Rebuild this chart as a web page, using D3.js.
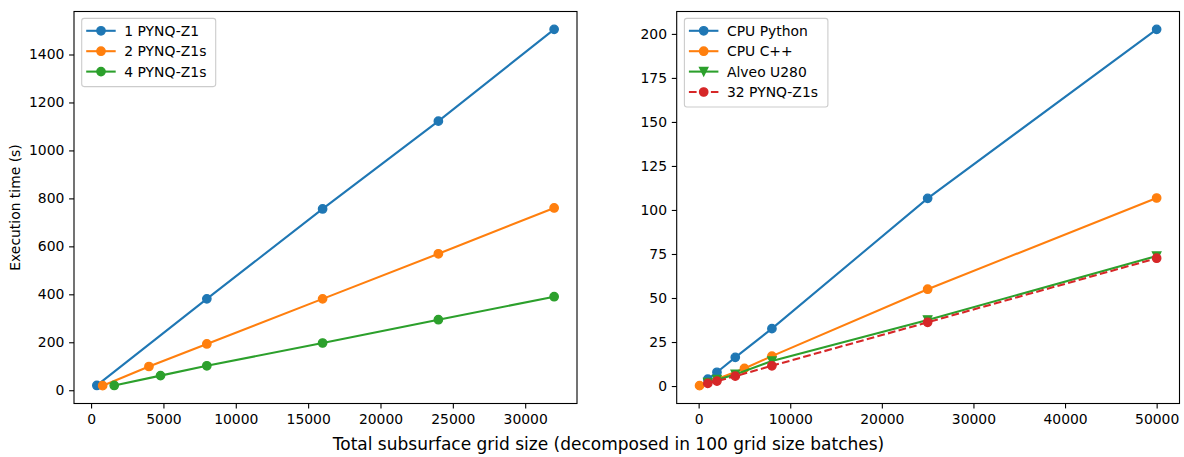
<!DOCTYPE html>
<html>
<head>
<meta charset="utf-8">
<script src="https://cdn.jsdelivr.net/npm/d3@7"></script>
<style>
  body { margin: 0; background: #fff; }
  svg text { font-family: "DejaVu Sans", sans-serif; fill: #000; }
</style>
</head>
<body>
<svg id="chart" width="1184" height="457"></svg>
<script>
// left panel: PYNQ boards
const leftNames = ["1 PYNQ-Z1", "2 PYNQ-Z1s", "4 PYNQ-Z1s"];
const leftX = [
  [400, 8000, 16000, 24000, 32000],
  [800, 4000, 8000, 16000, 24000, 32000],
  [1600, 4800, 8000, 16000, 24000, 32000],
];
const leftY = [
  [20, 381, 756, 1122, 1505],
  [19, 99, 193, 381, 569, 760],
  [20, 61, 102, 197, 294, 390],
];
const leftXTicks = [0, 5000, 10000, 15000, 20000, 25000, 30000];
const leftYTicks = [0, 200, 400, 600, 800, 1000, 1200, 1400];

// right panel: CPU / Alveo / PYNQ cluster
const rightNames = ["CPU Python", "CPU C++", "Alveo U280", "32 PYNQ-Z1s"];
const rightX = [
  [1000, 2000, 4000, 8000, 25000, 50000],
  [100, 5000, 8000, 25000, 50000],
  [1000, 2000, 4000, 8000, 25000, 50000],
  [1000, 2000, 4000, 8000, 25000, 50000],
];
const rightY = [
  [3.9, 7.8, 16.3, 32.6, 106.6, 202.6],
  [0.2, 10.0, 17.0, 55.0, 106.8],
  [2.0, 3.6, 6.6, 14.2, 37.5, 73.8],
  [1.5, 2.8, 5.6, 11.5, 36.2, 72.6],
];
const rightXTicks = [0, 10000, 20000, 30000, 40000, 50000];
const rightYTicks = [0, 25, 50, 75, 100, 125, 150, 175, 200];

const colors = ["#1f77b4", "#ff7f0e", "#2ca02c", "#d62728"];
const svg = d3.select("#chart");

function padded(vals) {
  const lo = d3.min(vals), hi = d3.max(vals), m = (hi - lo) * 0.05;
  return [lo - m, hi + m];
}

function triDown(cx, cy, s) {
  const h = s / 2;
  return `M${cx},${cy + h}L${cx - h},${cy - h}L${cx + h},${cy - h}Z`;
}

// matplotlib marker: 6pt body plus a 1pt edge of the same colour
function marker(sel, kind, cx, cy, color) {
  if (kind === "v") {
    sel.append("path").attr("d", triDown(cx, cy, 8.3))
      .attr("fill", color).attr("stroke", color).attr("stroke-width", 1.39).attr("stroke-linejoin", "miter");
  } else {
    sel.append("circle").attr("cx", cx).attr("cy", cy).attr("r", 4.17)
      .attr("fill", color).attr("stroke", color).attr("stroke-width", 1.39);
  }
}

function panel(box, names, xs, ys, xTicks, yTicks, styles) {
  const x = d3.scaleLinear().domain(padded(xs.flat())).range([box.x0, box.x1]);
  const y = d3.scaleLinear().domain(padded(ys.flat())).range([box.y1, box.y0]);
  const g = svg.append("g");

  // axes
  const xa = g.append("g").attr("transform", `translate(0,${box.y1})`)
    .call(d3.axisBottom(x).tickValues(xTicks).tickFormat(d3.format("d")).tickSize(4.9).tickPadding(4));
  const ya = g.append("g").attr("transform", `translate(${box.x0},0)`)
    .call(d3.axisLeft(y).tickValues(yTicks).tickFormat(d3.format("d")).tickSize(4.9).tickPadding(4.8));
  [xa, ya].forEach(a => {
    a.select(".domain").remove();
    a.selectAll("line").attr("stroke", "#000").attr("stroke-width", 1.1);
    a.selectAll("text").attr("font-size", 13.9).attr("font-family", "DejaVu Sans").attr("fill", "#000");
  });
  xa.selectAll("text").attr("dy", "0.85em");

  // series
  names.forEach((n, i) => {
    const pts = xs[i].map((v, j) => [x(v), y(ys[i][j])]);
    g.append("path").attr("d", d3.line()(pts))
      .attr("fill", "none").attr("stroke", colors[i]).attr("stroke-width", 2.08)
      .attr("stroke-dasharray", styles[i].dash ? "7.7,3.3" : null);
    pts.forEach(p => marker(g, styles[i].marker, p[0], p[1], colors[i]));
  });

  // frame
  g.append("rect").attr("x", box.x0).attr("y", box.y0)
    .attr("width", box.x1 - box.x0).attr("height", box.y1 - box.y0)
    .attr("fill", "none").attr("stroke", "#000").attr("stroke-width", 1.1);

  // legend
  const lx = box.x0 + 7.7, ly = box.y0 + 6.9, rowH = 20.4;
  const lg = g.append("g");
  lg.append("rect").attr("x", lx).attr("y", ly).attr("rx", 2.5)
    .attr("width", styles.legendW).attr("height", 11 + names.length * rowH - 4)
    .attr("fill", "#fff").attr("fill-opacity", 0.8).attr("stroke", "#cccccc").attr("stroke-width", 1.1);
  names.forEach((n, i) => {
    const cy = ly + 12.4 + i * rowH;
    lg.append("line").attr("x1", lx + 4.5).attr("x2", lx + 34).attr("y1", cy).attr("y2", cy)
      .attr("stroke", colors[i]).attr("stroke-width", 2.08)
      .attr("stroke-dasharray", styles[i].dash ? "7.7,3.3" : null);
    marker(lg, styles[i].marker, lx + 19.3, cy, colors[i]);
    lg.append("text").attr("x", lx + 42.6).attr("y", cy).attr("dy", "0.36em")
      .attr("font-size", 13.9).text(n);
  });
}

const leftStyles = [{}, {}, {}];
leftStyles.legendW = 134;
panel({ x0: 74, x1: 577, y0: 11.5, y1: 403.5 }, leftNames, leftX, leftY, leftXTicks, leftYTicks, leftStyles);

const rightStyles = [{}, {}, { marker: "v" }, { dash: true }];
rightStyles.legendW = 143.5;
panel({ x0: 676.7, x1: 1179.5, y0: 11.5, y1: 403.5 }, rightNames, rightX, rightY, rightXTicks, rightYTicks, rightStyles);

// labels
svg.append("text").attr("transform", "translate(19.5,207.5) rotate(-90)")
  .attr("text-anchor", "middle").attr("font-size", 13.9).text("Execution time (s)");
svg.append("text").attr("x", 608.5).attr("y", 450).attr("text-anchor", "middle")
  .attr("font-size", 17).text("Total subsurface grid size (decomposed in 100 grid size batches)");
</script>
</body>
</html>
